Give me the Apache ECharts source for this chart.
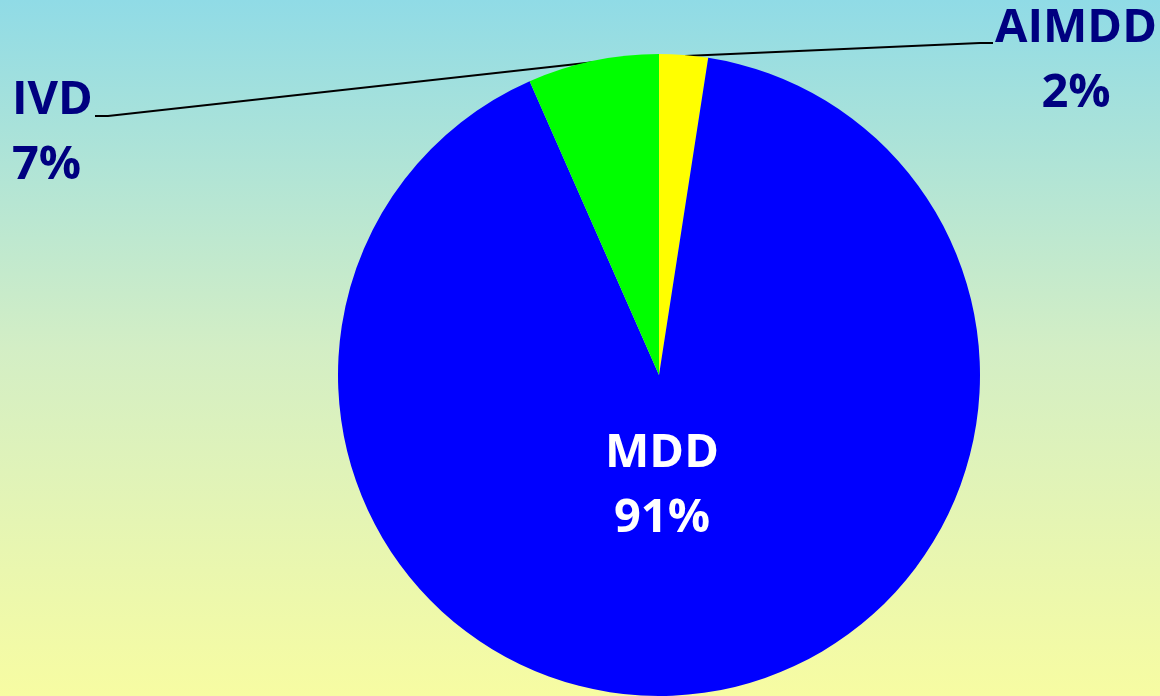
<!DOCTYPE html>
<html>
<head>
<meta charset="utf-8">
<script src="https://cdn.jsdelivr.net/npm/echarts@6/dist/echarts.min.js"></script>
<style>
html,body{margin:0;padding:0;width:1160px;height:696px;overflow:hidden;}
#chart{width:1160px;height:696px;}
</style>
</head>
<body>
<div id="chart"></div>
<script>
// Data
var categories = ['AIMDD', 'MDD', 'IVD'];
var values = [2.45, 90.95, 6.6];
var colors = ['#FFFF00', '#0000FF', '#00FF00'];

var FONT = '"Open Sans", "Noto Sans", sans-serif';

// Label placement (label anchor positions, not mark coordinates)
var labelPlace = [
  {x: 1076, y: 61, align: 'center', verticalAlign: 'middle', line: [[685, 56], [980, 43], [993, 43]]},
  null,
  {x: 12, y: 133, align: 'left', verticalAlign: 'middle', line: [[595, 62], [108, 116], [95, 116]]}
];
var mddPlace = {x: 662, y: 486, align: 'center', verticalAlign: 'middle'};

var chart = echarts.init(document.getElementById('chart'));
var data = categories.map(function (c, i) {
  var inside = (c === 'MDD');
  return {
    name: c,
    value: values[i],
    itemStyle: {color: colors[i]},
    label: {
      position: inside ? 'inside' : 'outside',
      color: inside ? '#FFFFFF' : '#000080'
    },
    labelLine: {show: !inside}
  };
});

chart.setOption({
  backgroundColor: {
    type: 'linear', x: 0, y: 0, x2: 0, y2: 1,
    colorStops: [
      {offset: 0, color: '#90DBE6'},
      {offset: 0.5, color: '#D3EEC5'},
      {offset: 1, color: '#F7FCA2'}
    ]
  },
  animation: false,
  series: [{
    type: 'pie',
    center: [659, 375],
    radius: 321,
    startAngle: 90,
    clockwise: true,
    data: data,
    label: {
      show: true,
      fontFamily: FONT,
      fontWeight: 'bold',
      fontSize: 47,
      lineHeight: 65,
      formatter: function (p) { return p.name + '\n' + Math.round(p.percent) + '%'; }
    },
    labelLine: {
      show: true,
      lineStyle: {color: '#000000', width: 2}
    },
    labelLayout: function (params) {
      var i = params.dataIndex;
      if (i === 1) {
        return {x: mddPlace.x, y: mddPlace.y, align: mddPlace.align, verticalAlign: mddPlace.verticalAlign};
      }
      var p = labelPlace[i];
      return {x: p.x, y: p.y, align: p.align, verticalAlign: p.verticalAlign, labelLinePoints: p.line};
    }
  }]
});
</script>
</body>
</html>
